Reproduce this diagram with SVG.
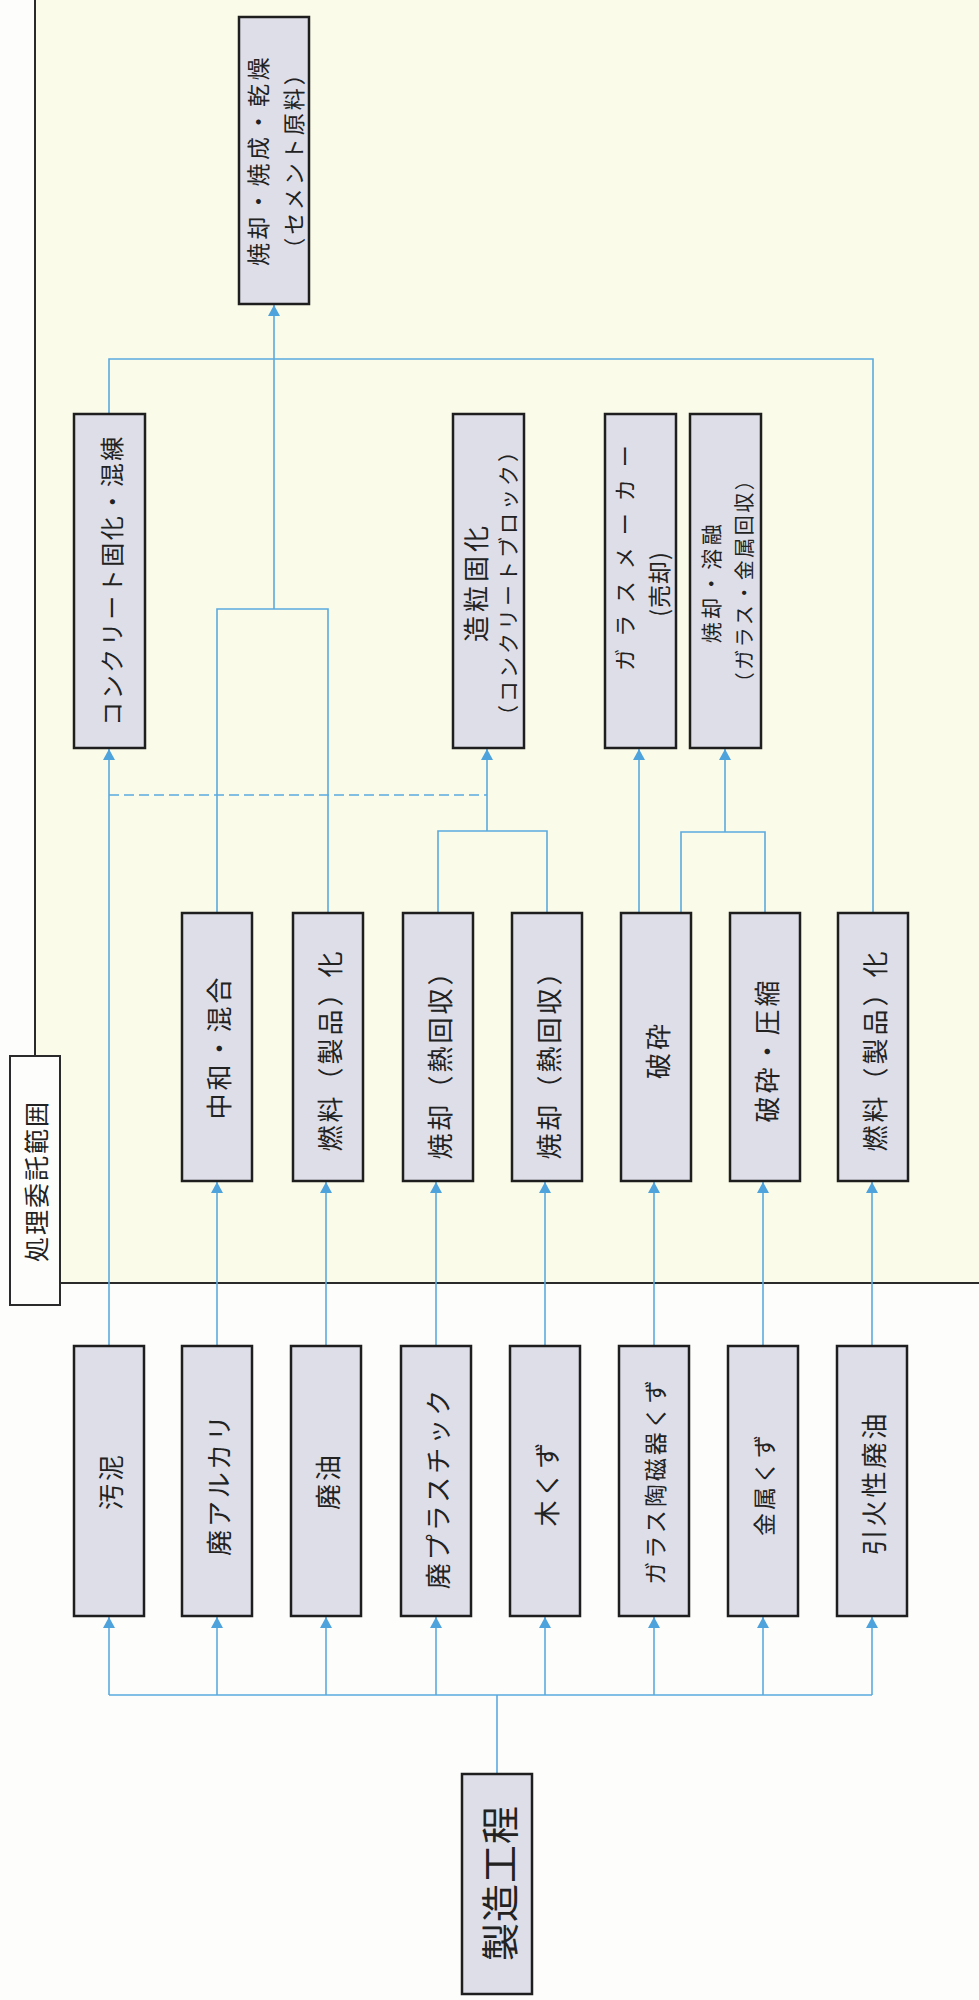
<svg xmlns="http://www.w3.org/2000/svg" width="979" height="2000" viewBox="0 0 979 2000">
<style>
.box{fill:#dddee8;stroke:#1e1e1e;stroke-width:2.5}
.lbl{fill:#fdfdfb;stroke:#2a2a2a;stroke-width:2}
.t{font-family:"Noto Sans CJK JP","Noto Sans CJK SC",sans-serif;fill:#222;text-anchor:middle;dominant-baseline:central;text-spacing-trim:space-all}
.c{fill:none;stroke:#5aaadf;stroke-width:1.6}
.d{stroke-dasharray:10 5}
</style>
<defs>
<marker id="ah" markerUnits="userSpaceOnUse" markerWidth="12" markerHeight="12" viewBox="0 0 10 11" refX="10" refY="5.5" orient="auto">
<path d="M0,0 L10,5.5 L0,11 z" fill="#4ea3dd"/>
</marker>
</defs>
<rect x="0" y="0" width="979" height="2000" fill="#fdfdfb"/>
<rect id="region" x="35" y="-10" width="960" height="1293" fill="#fbfbe9" stroke="#2a2a2a" stroke-width="2"/>

<g id="connectors">
<path class="c" d="M109 1695 H872 M497 1774 V1695"/>
<path class="c" marker-end="url(#ah)" d="M109 1695 V1617"/>
<path class="c" marker-end="url(#ah)" d="M217 1695 V1617"/>
<path class="c" marker-end="url(#ah)" d="M326 1695 V1617"/>
<path class="c" marker-end="url(#ah)" d="M436 1695 V1617"/>
<path class="c" marker-end="url(#ah)" d="M545 1695 V1617"/>
<path class="c" marker-end="url(#ah)" d="M654 1695 V1617"/>
<path class="c" marker-end="url(#ah)" d="M763 1695 V1617"/>
<path class="c" marker-end="url(#ah)" d="M872 1695 V1617"/>
<path class="c" marker-end="url(#ah)" d="M109 1346 V749"/>
<path class="c" marker-end="url(#ah)" d="M217 1346 V1182"/>
<path class="c" marker-end="url(#ah)" d="M326 1346 V1182"/>
<path class="c" marker-end="url(#ah)" d="M436 1346 V1182"/>
<path class="c" marker-end="url(#ah)" d="M545 1346 V1182"/>
<path class="c" marker-end="url(#ah)" d="M654 1346 V1182"/>
<path class="c" marker-end="url(#ah)" d="M763 1346 V1182"/>
<path class="c" marker-end="url(#ah)" d="M872 1346 V1182"/>
<path class="c" d="M217 913 V609 H328 V913"/>
<path class="c" d="M109 414 V359 H873 V913"/>
<path class="c" marker-end="url(#ah)" d="M274 609 V305"/>
<path class="c" d="M438 913 V831 H547 V913"/>
<path class="c" marker-end="url(#ah)" d="M487 831 V749"/>
<path class="c" marker-end="url(#ah)" d="M639 913 V749"/>
<path class="c" d="M681 913 V832 H765 V913"/>
<path class="c" marker-end="url(#ah)" d="M725 832 V749"/>
<path class="c d" d="M109 795 H487"/>
</g>

<g id="label-region">
<rect class="lbl" x="10" y="1056" width="50" height="249"/>
<text class="t" x="35" y="1181" font-size="25" letter-spacing="2" transform="rotate(-90 35 1181)">処理委託範囲</text>
</g>

<g id="n-cement">
<rect class="box" x="239" y="17" width="70" height="287"/>
<text class="t" x="257" y="160" font-size="23" letter-spacing="3.5" transform="rotate(-90 257 160)">焼却・焼成・乾燥</text>
<text class="t" x="292" y="160" font-size="22" letter-spacing="3" transform="rotate(-90 292 160)">（セメント原料）</text>
</g>

<g id="n-concrete">
<rect class="box" x="74" y="414" width="71" height="334"/>
<text class="t" x="110" y="580" font-size="24" letter-spacing="2.5" transform="rotate(-90 110 580)">コンクリート固化・混練</text>
</g>
<g id="n-granule">
<rect class="box" x="453" y="414" width="71" height="334"/>
<text class="t" x="474" y="582" font-size="26" letter-spacing="4" transform="rotate(-90 474 582)">造粒固化</text>
<text class="t" x="507" y="582" font-size="21" letter-spacing="3" transform="rotate(-90 507 582)">（コンクリートブロック）</text>
</g>
<g id="n-glassmaker">
<rect class="box" x="605" y="414" width="71" height="334"/>
<text class="t" x="623" y="552" font-size="22" letter-spacing="12" transform="rotate(-90 623 552)">ガラスメーカー</text>
<text class="t" x="658" y="584" font-size="23" letter-spacing="1" transform="rotate(-90 658 584)">(売却)</text>
</g>
<g id="n-melt">
<rect class="box" x="690" y="414" width="71" height="334"/>
<text class="t" x="710" y="582" font-size="21" letter-spacing="3.5" transform="rotate(-90 710 582)">焼却・溶融</text>
<text class="t" x="743" y="580" font-size="20" letter-spacing="2.5" transform="rotate(-90 743 580)">（ガラス・金属回収）</text>
</g>

<g id="n-neutral">
<rect class="box" x="182" y="913" width="70" height="268"/>
<text class="t" x="217" y="1047" font-size="26" letter-spacing="3" transform="rotate(-90 217 1047)">中和・混合</text>
</g>
<g id="n-fuel1">
<rect class="box" x="293" y="913" width="70" height="268"/>
<text class="t" x="328" y="1050" font-size="26" letter-spacing="3" transform="rotate(-90 328 1050)">燃料（製品）化</text>
</g>
<g id="n-incin1">
<rect class="box" x="403" y="913" width="70" height="268"/>
<text class="t" x="438" y="1058" font-size="26" letter-spacing="3" transform="rotate(-90 438 1058)">焼却（熱回収）</text>
</g>
<g id="n-incin2">
<rect class="box" x="512" y="913" width="70" height="268"/>
<text class="t" x="547" y="1058" font-size="26" letter-spacing="3" transform="rotate(-90 547 1058)">焼却（熱回収）</text>
</g>
<g id="n-crush">
<rect class="box" x="621" y="913" width="70" height="268"/>
<text class="t" x="656" y="1050" font-size="26" letter-spacing="3" transform="rotate(-90 656 1050)">破砕</text>
</g>
<g id="n-crushpress">
<rect class="box" x="730" y="913" width="70" height="268"/>
<text class="t" x="765" y="1050" font-size="26" letter-spacing="3" transform="rotate(-90 765 1050)">破砕・圧縮</text>
</g>
<g id="n-fuel2">
<rect class="box" x="838" y="913" width="70" height="268"/>
<text class="t" x="873" y="1050" font-size="26" letter-spacing="3" transform="rotate(-90 873 1050)">燃料（製品）化</text>
</g>

<g id="s-sludge">
<rect class="box" x="74" y="1346" width="70" height="270"/>
<text class="t" x="109" y="1481" font-size="26" letter-spacing="3" transform="rotate(-90 109 1481)">汚泥</text>
</g>
<g id="s-alkali">
<rect class="box" x="182" y="1346" width="70" height="270"/>
<text class="t" x="217" y="1484" font-size="26" letter-spacing="3" transform="rotate(-90 217 1484)">廃アルカリ</text>
</g>
<g id="s-oil">
<rect class="box" x="291" y="1346" width="70" height="270"/>
<text class="t" x="326" y="1481" font-size="26" letter-spacing="3" transform="rotate(-90 326 1481)">廃油</text>
</g>
<g id="s-plastic">
<rect class="box" x="401" y="1346" width="70" height="270"/>
<text class="t" x="436" y="1488" font-size="26" letter-spacing="3" transform="rotate(-90 436 1488)">廃プラスチック</text>
</g>
<g id="s-wood">
<rect class="box" x="510" y="1346" width="70" height="270"/>
<text class="t" x="545" y="1483" font-size="26" letter-spacing="3" transform="rotate(-90 545 1483)">木くず</text>
</g>
<g id="s-glass">
<rect class="box" x="619" y="1346" width="70" height="270"/>
<text class="t" x="654" y="1481" font-size="23" letter-spacing="3" transform="rotate(-90 654 1481)">ガラス陶磁器くず</text>
</g>
<g id="s-metal">
<rect class="box" x="728" y="1346" width="70" height="270"/>
<text class="t" x="763" y="1484" font-size="23" letter-spacing="3" transform="rotate(-90 763 1484)">金属くず</text>
</g>
<g id="s-flammable">
<rect class="box" x="837" y="1346" width="70" height="270"/>
<text class="t" x="872" y="1483" font-size="26" letter-spacing="3" transform="rotate(-90 872 1483)">引火性廃油</text>
</g>

<g id="n-manufacturing">
<rect class="box" x="462" y="1774" width="70" height="220"/>
<text class="t" x="497" y="1883" font-size="38" letter-spacing="1" transform="rotate(-90 497 1883)">製造工程</text>
</g>
</svg>
